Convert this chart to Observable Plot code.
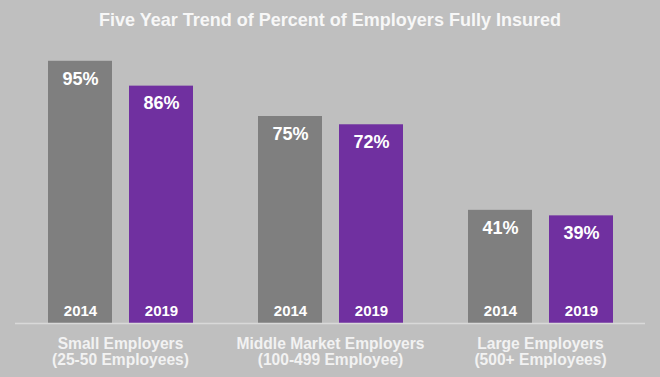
<!DOCTYPE html>
<html>
<head>
<meta charset="utf-8">
<script src="https://cdn.jsdelivr.net/npm/d3@7"></script>
<script src="https://cdn.jsdelivr.net/npm/@observablehq/plot@0.6"></script>
<style>
  html, body { margin: 0; padding: 0; background: #bfbfbf; width: 660px; height: 377px; overflow: hidden; }
  #title { height: 28px; padding-top: 12px; text-align: center; font-family: "Liberation Sans", Arial, sans-serif; font-weight: bold; font-size: 18px; line-height: 17px; color: #f7f7f7; }
  svg { display: block; }
</style>
</head>
<body>
<div id="title">Five Year Trend of Percent of Employers Fully Insured</div>
<div id="chart"></div>
<script>
const groups = ["Small Employers\n(25-50 Employees)", "Middle Market Employers\n(100-499 Employee)", "Large Employers\n(500+ Employees)"];
const years = ["2014", "2019"];
const values2014 = [95, 75, 41];
const values2019 = [86, 72, 39];
const yearColors = ["#7f7f7f", "#7030a0"];

const data = [];
groups.forEach((g, i) => {
  data.push({group: g, year: years[0], value: values2014[i]});
  data.push({group: g, year: years[1], value: values2019[i]});
});

const font = "'Liberation Sans', Arial, sans-serif";

const chart = Plot.plot({
  width: 660,
  height: 337,
  marginTop: 7,
  marginBottom: 54,
  marginLeft: 15,
  marginRight: 15,
  style: {background: "transparent", fontFamily: font, overflow: "visible"},
  facet: {marginTop: 0, marginBottom: 0, marginLeft: 0, marginRight: 0},
  fx: {domain: groups, padding: 0, axis: null},
  x: {domain: years, paddingInner: 0.21, paddingOuter: 0.4, axis: null},
  y: {domain: [0, 100], axis: null},
  color: {domain: years, range: yearColors},
  marks: [
    Plot.barY(data, {fx: "group", x: "year", y: "value", fill: "year"}),
    Plot.ruleY([0], {stroke: "#d9d9d9", strokeWidth: 1.5}),
    Plot.text(data, {fx: "group", x: "year", y: "value", text: d => d.value + "%", lineAnchor: "top", dy: 10.5, fill: "white", fontSize: 18, fontWeight: "bold"}),
    Plot.text(data, {fx: "group", x: "year", y: () => 0, text: "year", lineAnchor: "top", dy: -18, fill: "white", fontSize: 15, fontWeight: "bold"}),
    Plot.text(groups, {fx: d => d, text: d => d, frameAnchor: "bottom", lineAnchor: "top", dy: 14, fill: "#f2f2f2", fontSize: 15.6, fontWeight: "bold", lineHeight: 1.02})
  ]
});
document.getElementById("chart").appendChild(chart);
</script>
</body>
</html>
